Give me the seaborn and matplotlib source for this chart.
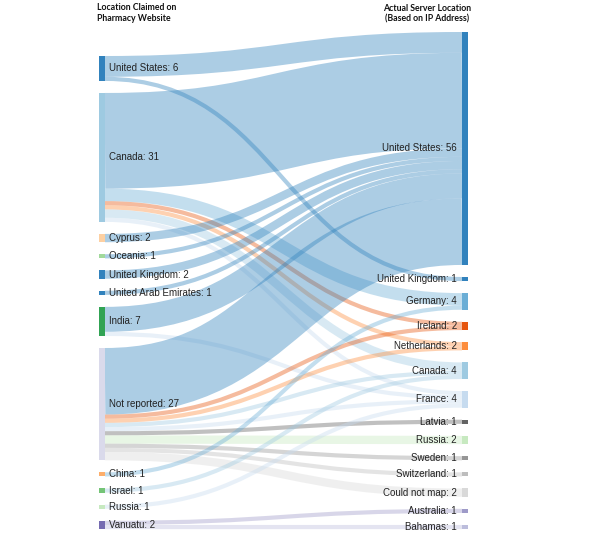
import matplotlib
matplotlib.use("Agg")
import matplotlib.pyplot as plt
from matplotlib.path import Path
from matplotlib.patches import PathPatch, Rectangle
import seaborn as sns
import pandas as pd

sns.set_theme(style="white")

# --- dados ---
origens = ["United States", "Canada", "Cyprus", "Oceania", "United Kingdom",
           "United Arab Emirates", "India", "Not reported", "China", "Israel",
           "Russia", "Vanuatu"]
destinos = ["United States", "United Kingdom", "Germany", "Ireland", "Netherlands",
            "Canada", "France", "Latvia", "Russia", "Sweden", "Switzerland",
            "Could not map", "Australia", "Bahamas"]

fluxo_origem = ["United States", "United States",
                "Canada", "Canada", "Canada", "Canada", "Canada", "Canada",
                "Cyprus", "Oceania", "United Kingdom", "United Arab Emirates",
                "India", "India",
                "Not reported", "Not reported", "Not reported", "Not reported",
                "Not reported", "Not reported", "Not reported", "Not reported",
                "Not reported", "Not reported",
                "China", "Israel", "Russia", "Vanuatu", "Vanuatu"]
fluxo_destino = ["United States", "United Kingdom",
                 "United States", "Germany", "Ireland", "Netherlands", "Canada", "France",
                 "United States", "United States", "United States", "United States",
                 "United States", "France",
                 "United States", "Ireland", "Netherlands", "Canada", "France",
                 "Latvia", "Russia", "Sweden", "Switzerland", "Could not map",
                 "Germany", "Canada", "France", "Australia", "Bahamas"]
fluxo_valor = [5, 1,
               23, 3, 1, 1, 2, 1,
               2, 1, 2, 1,
               6, 1,
               16, 1, 1, 1, 1, 1, 2, 1, 1, 2,
               1, 1, 1, 1, 1]

titulo_esq = "Location Claimed on\nPharmacy Website"
titulo_dir = "Actual Server Location\n(Based on IP Address)"

# --- estilo ---
pal = sns.color_palette("tab20c", 20)
cor_origem = [0, 2, 7, 10, 0, 0, 8, 15, 6, 9, 11, 12]
cor_destino = [0, 0, 1, 4, 5, 2, 3, 16, 11, 17, 18, 19, 13, 14]

ESCALA = 4.16   # px por unidade
GAP = 12
TOPO = 32
X_ESQ, X_DIR, LARG = 99, 462, 6

df = pd.DataFrame({"origem": fluxo_origem, "destino": fluxo_destino, "valor": fluxo_valor})
tot_esq = df.groupby("origem")["valor"].sum().reindex(origens)
tot_dir = df.groupby("destino")["valor"].sum().reindex(destinos)

def empilhar(totais, inicio):
    pos = {}
    y = inicio
    for nome, v in totais.items():
        pos[nome] = y
        y += v * ESCALA + GAP
    return pos, y - GAP

pos_dir, fundo = empilhar(tot_dir, TOPO)
altura_esq = tot_esq.sum() * ESCALA + GAP * (len(origens) - 1)
pos_esq, _ = empilhar(tot_esq, fundo - altura_esq)

fig = plt.figure(figsize=(6, 5.36), dpi=100)
ax = fig.add_axes([0, 0, 1, 1])
ax.set_xlim(0, 600)
ax.set_ylim(536, 0)
ax.axis("off")

# ligações
df["io"] = df["origem"].map(origens.index)
df["id"] = df["destino"].map(destinos.index)
off_esq = dict(pos_esq)
y0s = {}
for i, r in df.sort_values(["io", "id"]).iterrows():
    y0s[i] = off_esq[r.origem] + r.valor * ESCALA / 2
    off_esq[r.origem] += r.valor * ESCALA
off_dir = dict(pos_dir)
y1s = {}
for i, r in df.sort_values(["id", "io"]).iterrows():
    y1s[i] = off_dir[r.destino] + r.valor * ESCALA / 2
    off_dir[r.destino] += r.valor * ESCALA

xa, xb = X_ESQ + LARG, X_DIR
xm = (xa + xb) / 2
for i, r in df.iterrows():
    p = Path([(xa, y0s[i]), (xm, y0s[i]), (xm, y1s[i]), (xb, y1s[i])],
             [Path.MOVETO, Path.CURVE4, Path.CURVE4, Path.CURVE4])
    ax.add_patch(PathPatch(p, fill=False, edgecolor=pal[cor_destino[r.id]],
                           alpha=0.4, lw=r.valor * ESCALA * 72 / 100,
                           capstyle="butt"))

# nós
fonte = ["Liberation Sans", "DejaVu Sans"]
for k, nome in enumerate(origens):
    h = tot_esq[nome] * ESCALA
    ax.add_patch(Rectangle((X_ESQ, pos_esq[nome]), LARG, h, color=pal[cor_origem[k]], lw=0))
    ax.text(X_ESQ + LARG + 4, pos_esq[nome] + h / 2, f"{nome}: {tot_esq[nome]}",
            ha="left", va="center", fontsize=7, color="#222222", family=fonte)
for k, nome in enumerate(destinos):
    h = tot_dir[nome] * ESCALA
    ax.add_patch(Rectangle((X_DIR, pos_dir[nome]), LARG, h, color=pal[cor_destino[k]], lw=0))
    ax.text(X_DIR - 5, pos_dir[nome] + h / 2, f"{nome}: {tot_dir[nome]}",
            ha="right", va="center", fontsize=7, color="#222222", family=fonte)

fonte_titulo = ["Lato", "DejaVu Sans"]
ax.text(X_ESQ - 2, 3, titulo_esq, ha="left", va="top", fontsize=6.3, fontweight="bold",
        family=fonte_titulo, color="#111111", linespacing=1.25)
ax.text(427, 4, titulo_dir, ha="center", va="top", fontsize=6.3, fontweight="bold",
        family=fonte_titulo, color="#111111", linespacing=1.25)

fig.savefig("out.png", dpi=100)
